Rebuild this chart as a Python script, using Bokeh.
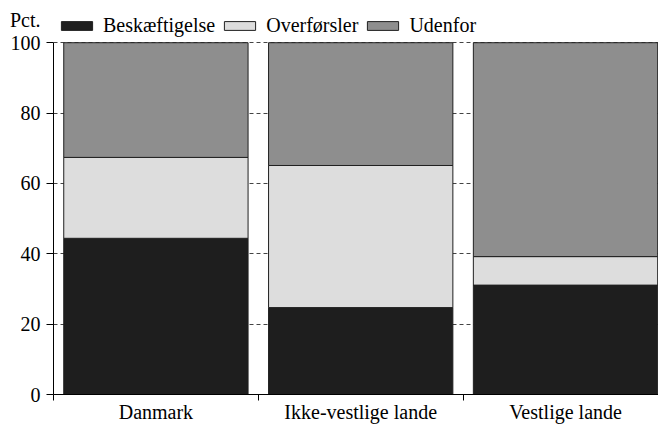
from bokeh.plotting import figure
from bokeh.models import (Range1d, FixedTicker, Legend, LegendItem, LinearAxis,
                          ColumnDataSource)
from bokeh.embed import file_html
from bokeh.resources import INLINE

# ---- data ----
categories = ["Danmark", "Ikke-vestlige lande", "Vestlige lande"]
series = ["Beskæftigelse", "Overførsler", "Udenfor"]
beskaeftigelse = [44.4, 24.7, 31.1]
overforsler = [23.0, 40.4, 8.1]
udenfor = [32.6, 34.9, 60.8]
y_ticks = [0, 20, 40, 60, 80, 100]
y_label = "Pct."

colors = ["#1e1e1e", "#dddddd", "#8e8e8e"]
FONT = "Liberation Serif"
Y_TOP = 112.0        # frame extends above 100 to hold legend and unit label
UNIT_POS = 106.5     # vertical position of the unit label

xpos = [i + 0.5 for i in range(len(categories))]
source = ColumnDataSource(dict(
    x=xpos,
    s0=beskaeftigelse,
    s1=overforsler,
    s2=udenfor,
))

p = figure(width=658, height=425, output_backend="svg", toolbar_location=None,
           x_range=Range1d(0, 2.954), y_range=Range1d(0, Y_TOP),
           y_axis_location=None,
           min_border_left=53, min_border_right=0, min_border_top=0,
           min_border_bottom=30)
p.outline_line_color = None
p.background_fill_color = "white"
p.border_fill_color = "white"

renderers = p.vbar_stack(["s0", "s1", "s2"], x="x", width=0.9, source=source,
                         fill_color=colors, line_color="#202020", line_width=1)

# grid
p.xgrid.visible = False
p.ygrid.ticker = FixedTicker(ticks=y_ticks[1:])
p.ygrid.grid_line_color = "#444444"
p.ygrid.grid_line_dash = "4 3"
p.ygrid.grid_line_width = 1

# y axis: line + ticks (next to frame)
ya = LinearAxis(ticker=FixedTicker(ticks=y_ticks, minor_ticks=[]),
                bounds=(y_ticks[0], y_ticks[-1]))
ya.major_label_overrides = {t: "" for t in y_ticks}
ya.major_tick_in = 0
ya.major_tick_out = 7
ya.major_label_standoff = 0
ya.axis_line_color = "black"
ya.major_tick_line_color = "black"
ya.minor_tick_line_color = None
p.add_layout(ya, "left")

# y axis labels (incl. unit label on top)
yl = LinearAxis(ticker=FixedTicker(ticks=y_ticks + [UNIT_POS], minor_ticks=[]))
yl.major_label_overrides = {UNIT_POS: y_label}
yl.axis_line_color = None
yl.major_tick_line_color = None
yl.minor_tick_line_color = None
yl.major_tick_in = 0
yl.major_tick_out = 0
yl.major_label_standoff = 6
yl.major_label_text_font = FONT
yl.major_label_text_font_size = "20px"
yl.major_label_text_color = "black"
p.add_layout(yl, "left")

# x axis
xa = p.xaxis[0]
xa.ticker = FixedTicker(ticks=xpos, minor_ticks=[float(i) for i in range(len(categories) + 1)])
xa.major_label_overrides = {xv: c for xv, c in zip(xpos, categories)}
xa.major_tick_in = 0
xa.major_tick_out = 0
xa.major_tick_line_color = None
xa.minor_tick_in = 0
xa.minor_tick_out = 6
xa.minor_tick_line_color = "black"
xa.major_label_standoff = 0
xa.major_label_text_font = FONT
xa.major_label_text_font_size = "20px"
xa.major_label_text_color = "black"
xa.axis_line_color = "black"

legend = Legend(items=[LegendItem(label=s, renderers=[r]) for s, r in zip(series, renderers)],
                orientation="horizontal", location=(4, 357.5),
                glyph_width=39, glyph_height=11, label_standoff=7, spacing=5,
                padding=0, margin=0, border_line_color=None,
                background_fill_alpha=0,
                label_text_font=FONT, label_text_font_size="20px",
                label_text_color="black", label_text_baseline="alphabetic")
p.add_layout(legend)

open("out.html", "w").write(file_html(p, INLINE))
